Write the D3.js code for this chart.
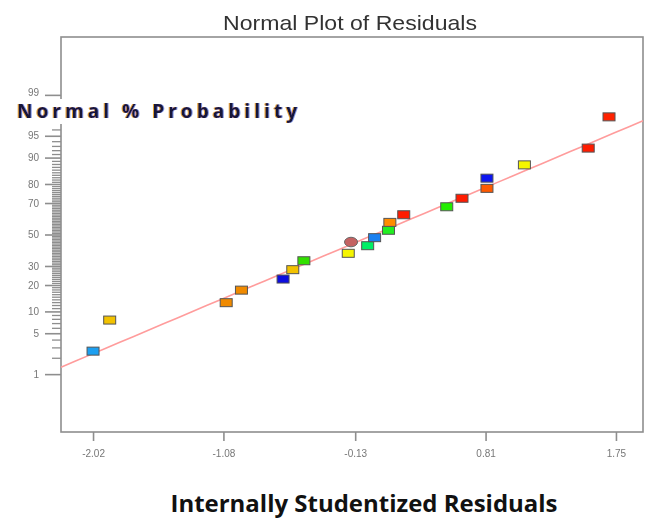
<!DOCTYPE html>
<html>
<head>
<meta charset="utf-8">
<script src="https://cdn.jsdelivr.net/npm/d3@7"></script>
<style>
  html, body { margin: 0; padding: 0; background: #fff; }
  svg { display: block; }
</style>
</head>
<body>
<svg id="chart" width="649" height="521"></svg>
<script>
// Internally studentized residuals and their normal % probability
const residuals = [-2.02, -1.90, -1.06, -0.95, -0.65, -0.58, -0.50, -0.18, -0.16, -0.04,
                   0.01, 0.11, 0.12, 0.22, 0.53, 0.64, 0.82, 0.82, 1.09, 1.55, 1.70];
const probabilities = [2.6, 7.7, 12.8, 17.7, 22.9, 27.9, 33.1, 37.7, 45.0, 42.6,
                       47.9, 52.8, 58.0, 62.9, 67.8, 72.7, 77.9, 82.6, 87.7, 92.5, 97.5];
// point colour (response level of each run); the run drawn as an ellipse is flagged
const pointColors = ["#1a9ff0", "#f2c200", "#f08a00", "#f08a00", "#0a0ae0", "#f2c200", "#33e000",
                     "#f5f500", "#c46262", "#00ee66", "#1e80f0", "#22ee22", "#ff8c00", "#ff1a00",
                     "#22ee00", "#ff1a00", "#ff5a00", "#0a14f0", "#f5f500", "#ff1a00", "#ff2400"];
const ellipseRun = [false, false, false, false, false, false, false, false, true, false,
                    false, false, false, false, false, false, false, false, false, false, false];

// Axis ticks
const xTicks = [-2.02, -1.08, -0.13, 0.81, 1.75];
const xDomain = [-2.251, 1.945];
const yMajorTicks = [1, 5, 10, 20, 30, 50, 70, 80, 90, 95, 99];
const yMinorTicks = d3.range(1, 100).filter(v => !yMajorTicks.includes(v));
const probDomain = [0.05, 99.95];

// Reference line: residual = mean + sd * z
const lineMean = 0.0085;
const lineSd = 1.022;

// Inverse standard normal CDF (Acklam)
function probit(p) {
  const a = [-3.969683028665376e+01, 2.209460984245205e+02, -2.759285104469687e+02,
             1.383577518672690e+02, -3.066479806614716e+01, 2.506628277459239e+00];
  const b = [-5.447609879822406e+01, 1.615858368580409e+02, -1.556989798598866e+02,
             6.680131188771972e+01, -1.328068155833109e+01];
  const c = [-7.784894002430293e-03, -3.223964580411365e-01, -2.400758277161838e+00,
             -2.549671464427155e+00, 4.374664141464968e+00, 2.938163982698783e+00];
  const d = [7.784695709041462e-03, 3.224671290700398e-01, 2.445134137142996e+00,
             3.754408661907416e+00];
  const plow = 0.02425, phigh = 1 - plow;
  if (p < plow) {
    const q = Math.sqrt(-2 * Math.log(p));
    return (((((c[0]*q+c[1])*q+c[2])*q+c[3])*q+c[4])*q+c[5]) / ((((d[0]*q+d[1])*q+d[2])*q+d[3])*q+1);
  }
  if (p > phigh) {
    const q = Math.sqrt(-2 * Math.log(1 - p));
    return -(((((c[0]*q+c[1])*q+c[2])*q+c[3])*q+c[4])*q+c[5]) / ((((d[0]*q+d[1])*q+d[2])*q+d[3])*q+1);
  }
  const q = p - 0.5, r = q * q;
  return (((((a[0]*r+a[1])*r+a[2])*r+a[3])*r+a[4])*r+a[5])*q / (((((b[0]*r+b[1])*r+b[2])*r+b[3])*r+b[4])*r+1);
}
const zOf = pct => probit(pct / 100);

const frame = { left: 61, top: 37, right: 643, bottom: 432 };

const svg = d3.select("#chart");
const defs = svg.append("defs");
defs.append("filter").attr("id", "soft").attr("x", "-20%").attr("y", "-20%")
  .attr("width", "140%").attr("height", "140%")
  .append("feGaussianBlur").attr("stdDeviation", 0.45);
defs.append("filter").attr("id", "softer").attr("x", "-20%").attr("y", "-20%")
  .attr("width", "140%").attr("height", "140%")
  .append("feGaussianBlur").attr("stdDeviation", 0.6);

// Coloured edge fringes around the bold axis title
const fringe = defs.append("filter").attr("id", "fringe")
  .attr("x", "-5%").attr("y", "-20%").attr("width", "110%").attr("height", "140%");
fringe.append("feFlood").attr("flood-color", "#e39000").attr("flood-opacity", 0.8).attr("result", "orange");
fringe.append("feComposite").attr("in", "orange").attr("in2", "SourceAlpha").attr("operator", "in").attr("result", "orangeText");
fringe.append("feOffset").attr("in", "orangeText").attr("dx", -0.9).attr("dy", 0).attr("result", "orangeShift");
fringe.append("feFlood").attr("flood-color", "#2a4fd0").attr("flood-opacity", 0.6).attr("result", "blue");
fringe.append("feComposite").attr("in", "blue").attr("in2", "SourceAlpha").attr("operator", "in").attr("result", "blueText");
fringe.append("feOffset").attr("in", "blueText").attr("dx", 0.9).attr("dy", 0).attr("result", "blueShift");
const merge = fringe.append("feMerge");
merge.append("feMergeNode").attr("in", "orangeShift");
merge.append("feMergeNode").attr("in", "blueShift");
merge.append("feMergeNode").attr("in", "SourceGraphic");

const x = d3.scaleLinear().domain(xDomain).range([frame.left, frame.right]);
const yz = d3.scaleLinear().domain(probDomain.map(zOf)).range([frame.bottom, frame.top]);

// Title
svg.append("text")
  .attr("x", 350).attr("y", 30)
  .attr("text-anchor", "middle")
  .attr("font-family", "Liberation Sans, Arial, sans-serif")
  .attr("font-size", 21)
  .attr("fill", "#333")
  .attr("filter", "url(#soft)")
  .attr("textLength", 254).attr("lengthAdjust", "spacingAndGlyphs")
  .text("Normal Plot of Residuals");

// Plot frame
svg.append("rect")
  .attr("x", frame.left).attr("y", frame.top)
  .attr("width", frame.right - frame.left).attr("height", frame.bottom - frame.top)
  .attr("fill", "none").attr("stroke", "#8e8e8e").attr("stroke-width", 1.6);

// X axis
const xAxis = svg.append("g")
  .attr("transform", `translate(0,${frame.bottom})`)
  .call(d3.axisBottom(x).tickValues(xTicks).tickSize(9).tickPadding(9).tickFormat(v => v.toFixed(2)));
xAxis.select(".domain").remove();
xAxis.selectAll(".tick line").attr("stroke", "#8e8e8e").attr("stroke-width", 1.6);
xAxis.selectAll(".tick text")
  .attr("font-family", "Liberation Sans, Arial, sans-serif")
  .attr("font-size", 10).attr("fill", "#777").attr("filter", "url(#softer)");

// Y axis: minor ticks at every percent, major ticks labelled
const yMinor = svg.append("g")
  .attr("transform", `translate(${frame.left},0)`)
  .call(d3.axisLeft(yz).tickValues(yMinorTicks.map(zOf)).tickSize(9).tickFormat(""));
yMinor.select(".domain").remove();
yMinor.selectAll(".tick line").attr("stroke", "#8e8e8e").attr("stroke-width", 1.3);

const yMajor = svg.append("g")
  .attr("transform", `translate(${frame.left},0)`)
  .call(d3.axisLeft(yz).tickValues(yMajorTicks.map(zOf)).tickSize(16).tickPadding(6)
    .tickFormat((z, i) => String(yMajorTicks[i])));
yMajor.select(".domain").remove();
yMajor.selectAll(".tick line").attr("stroke", "#8e8e8e").attr("stroke-width", 1.6);
yMajor.selectAll(".tick text")
  .attr("font-family", "Liberation Sans, Arial, sans-serif")
  .attr("font-size", 10).attr("fill", "#777").attr("filter", "url(#softer)");
// the top label sits just above its tick
yMajor.selectAll(".tick text").filter((z, i) => yMajorTicks[i] === 99).attr("dy", "0.1em");

// Fitted normal line
const lineR = d3.range(xDomain[0], xDomain[1] + 1e-9, (xDomain[1] - xDomain[0]) / 40);
svg.append("path")
  .datum(lineR)
  .attr("fill", "none")
  .attr("stroke", "#ff9c9c")
  .attr("stroke-width", 1.6)
  .attr("d", d3.line().x(r => x(r)).y(r => yz((r - lineMean) / lineSd)));

// Points
const pts = residuals.map((r, i) => ({ r, p: probabilities[i], c: pointColors[i], ell: ellipseRun[i] }));
const marks = svg.append("g").attr("filter", "url(#soft)");
marks.selectAll("rect.pt")
  .data(pts.filter(d => !d.ell))
  .join("rect")
  .attr("class", "pt")
  .attr("x", d => x(d.r) - 6)
  .attr("y", d => yz(zOf(d.p)) - 4)
  .attr("width", 12).attr("height", 8)
  .attr("fill", d => d.c)
  .attr("stroke", "#555").attr("stroke-width", 1);
marks.selectAll("ellipse.pt")
  .data(pts.filter(d => d.ell))
  .join("ellipse")
  .attr("class", "pt")
  .attr("cx", d => x(d.r))
  .attr("cy", d => yz(zOf(d.p)))
  .attr("rx", 6.5).attr("ry", 4.8)
  .attr("fill", d => d.c)
  .attr("stroke", "#666").attr("stroke-width", 1);

// Y axis title, on a white band over the axis
const yTitle = svg.append("g");
yTitle.append("rect")
  .attr("x", 10).attr("y", 99).attr("width", 296).attr("height", 25)
  .attr("fill", "#fff");
yTitle.append("text")
  .attr("x", 17).attr("y", 117.5)
  .attr("font-family", "Open Sans, Lato, sans-serif")
  .attr("font-weight", "bold")
  .attr("font-size", 19)
  .attr("fill", "#16163a")
  .attr("filter", "url(#fringe)")
  .attr("textLength", 280).attr("lengthAdjust", "spacing")
  .text("Normal % Probability");

// X axis title
svg.append("text")
  .attr("x", 364).attr("y", 512)
  .attr("text-anchor", "middle")
  .attr("font-family", "Open Sans, Lato, sans-serif")
  .attr("font-weight", "bold")
  .attr("font-size", 23)
  .attr("fill", "#111")
  .attr("textLength", 387).attr("lengthAdjust", "spacingAndGlyphs")
  .text("Internally Studentized Residuals");
</script>
</body>
</html>
